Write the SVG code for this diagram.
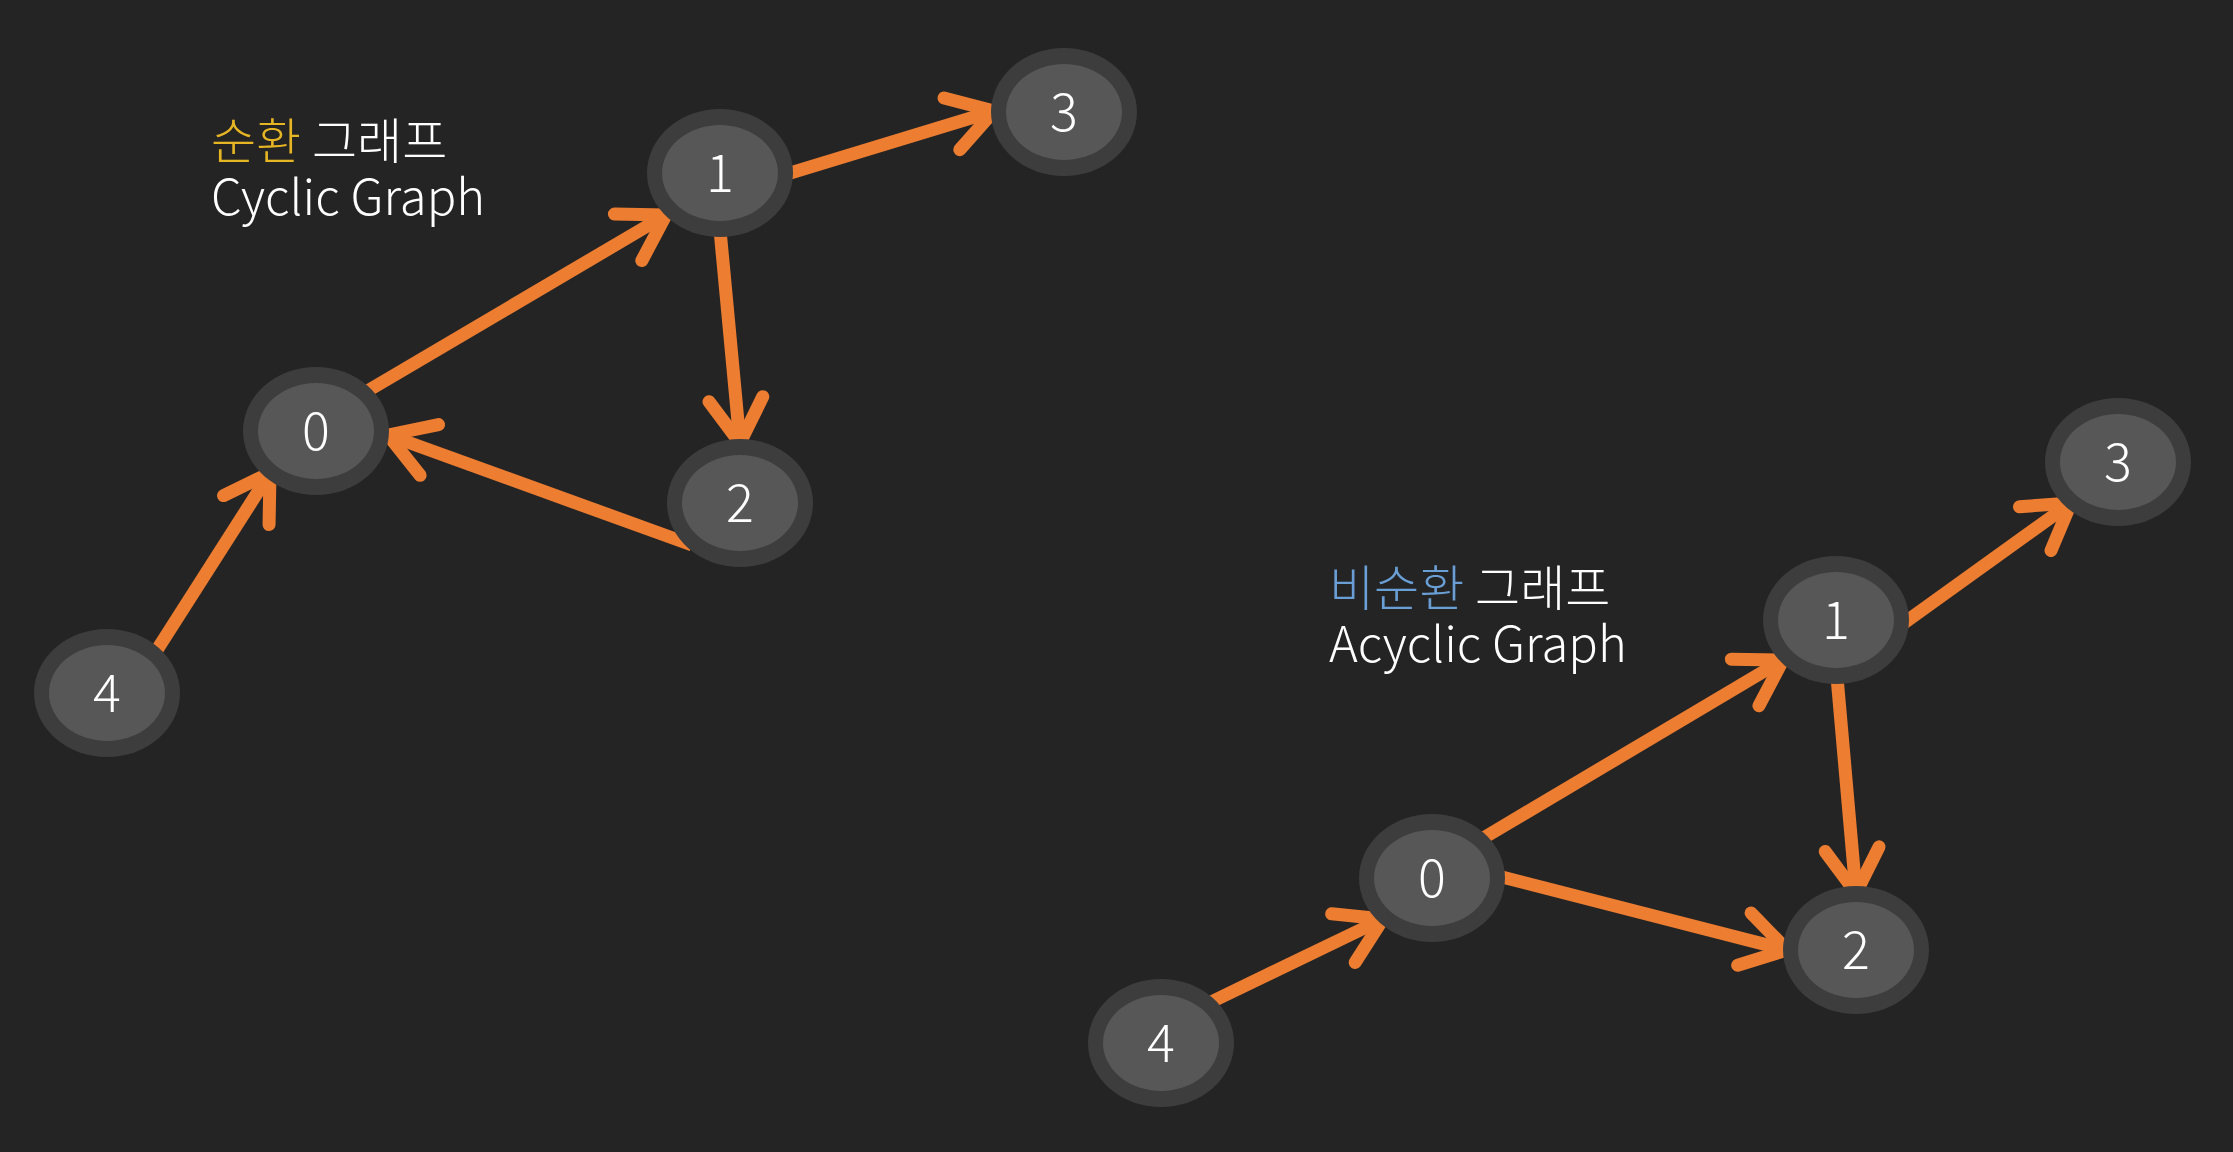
<svg xmlns="http://www.w3.org/2000/svg" width="2233" height="1152" viewBox="0 0 2233 1152">
<style>
.outer{fill:#3d3d3d}
.inner{fill:#575757}
.num{fill:#ffffff;font-family:"Noto Sans CJK KR","Noto Sans",sans-serif;font-weight:300;font-size:52px;text-anchor:middle}
.title{fill:#ffffff;font-family:"Noto Sans CJK KR","Noto Sans",sans-serif;font-weight:300;font-size:49px}
.edge{fill:none;stroke:#ed7d31;stroke-width:13;stroke-linecap:butt}
</style>
<defs>
<marker id="arr" markerUnits="userSpaceOnUse" markerWidth="120" markerHeight="120" refX="60" refY="60" orient="auto" overflow="visible">
<path d="M 16 33 L 60 60 L 16 87" fill="none" stroke="#ed7d31" stroke-width="13" stroke-linecap="round" stroke-linejoin="round"/>
</marker>
</defs>
<rect width="2233" height="1152" fill="#242424"/>

<g id="title-cyclic">
<text class="title" x="211" y="159"><tspan fill="#e6b524">순환</tspan> 그래프</text>
<text class="title" x="211" y="215">Cyclic Graph</text>
</g>
<g id="title-acyclic">
<text class="title" x="1329" y="606"><tspan fill="#6a9fd6">비순환</tspan> 그래프</text>
<text class="title" x="1329" y="662">Acyclic Graph</text>
</g>

<g id="connectors">
<line class="edge" x1="364" y1="393" x2="666" y2="215" marker-end="url(#arr)"/>
<line class="edge" x1="787" y1="174" x2="994" y2="111" marker-end="url(#arr)"/>
<line class="edge" x1="720" y1="230" x2="740" y2="443" marker-end="url(#arr)"/>
<line class="edge" x1="692" y1="545" x2="388" y2="435" marker-end="url(#arr)"/>
<line class="edge" x1="155" y1="653" x2="270" y2="473" marker-end="url(#arr)"/>

<line class="edge" x1="1480" y1="840" x2="1783" y2="660" marker-end="url(#arr)"/>
<line class="edge" x1="1904" y1="623" x2="2071" y2="503" marker-end="url(#arr)"/>
<line class="edge" x1="1837" y1="677" x2="1856" y2="893" marker-end="url(#arr)"/>
<line class="edge" x1="1502" y1="877" x2="1787" y2="950" marker-end="url(#arr)"/>
<line class="edge" x1="1209" y1="1003" x2="1383" y2="919" marker-end="url(#arr)"/>
</g>

<g id="c-node-0"><ellipse class="outer" cx="316" cy="431" rx="73" ry="64"/><ellipse class="inner" cx="316" cy="431" rx="58" ry="48"/><text class="num" x="316" y="450">0</text></g>
<g id="c-node-1"><ellipse class="outer" cx="720" cy="173" rx="73" ry="64"/><ellipse class="inner" cx="720" cy="173" rx="58" ry="48"/><text class="num" x="720" y="192">1</text></g>
<g id="c-node-2"><ellipse class="outer" cx="740" cy="503" rx="73" ry="64"/><ellipse class="inner" cx="740" cy="503" rx="58" ry="48"/><text class="num" x="740" y="522">2</text></g>
<g id="c-node-3"><ellipse class="outer" cx="1064" cy="112" rx="73" ry="64"/><ellipse class="inner" cx="1064" cy="112" rx="58" ry="48"/><text class="num" x="1064" y="131">3</text></g>
<g id="c-node-4"><ellipse class="outer" cx="107" cy="693" rx="73" ry="64"/><ellipse class="inner" cx="107" cy="693" rx="58" ry="48"/><text class="num" x="107" y="712">4</text></g>

<g id="a-node-0"><ellipse class="outer" cx="1432" cy="878" rx="73" ry="64"/><ellipse class="inner" cx="1432" cy="878" rx="58" ry="48"/><text class="num" x="1432" y="897">0</text></g>
<g id="a-node-1"><ellipse class="outer" cx="1836" cy="620" rx="73" ry="64"/><ellipse class="inner" cx="1836" cy="620" rx="58" ry="48"/><text class="num" x="1836" y="639">1</text></g>
<g id="a-node-2"><ellipse class="outer" cx="1856" cy="950" rx="73" ry="64"/><ellipse class="inner" cx="1856" cy="950" rx="58" ry="48"/><text class="num" x="1856" y="969">2</text></g>
<g id="a-node-3"><ellipse class="outer" cx="2118" cy="462" rx="73" ry="64"/><ellipse class="inner" cx="2118" cy="462" rx="58" ry="48"/><text class="num" x="2118" y="481">3</text></g>
<g id="a-node-4"><ellipse class="outer" cx="1161" cy="1043" rx="73" ry="64"/><ellipse class="inner" cx="1161" cy="1043" rx="58" ry="48"/><text class="num" x="1161" y="1062">4</text></g>
</svg>
